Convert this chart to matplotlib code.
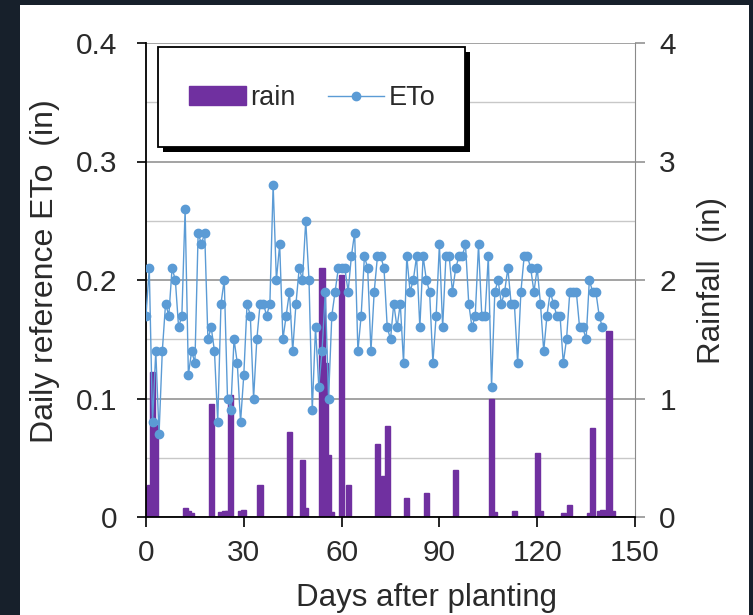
import matplotlib
matplotlib.use("Agg")
import matplotlib.pyplot as plt
from matplotlib.patches import Rectangle, Patch
from matplotlib.lines import Line2D
from matplotlib.ticker import MultipleLocator

plt.rcParams['font.family'] = ['Liberation Sans', 'DejaVu Sans']

# datos
eto_days = list(range(0, 141))
eto = [0.17, 0.21, 0.08, 0.14, 0.07, 0.14, 0.18, 0.17, 0.21, 0.20,
       0.16, 0.17, 0.26, 0.12, 0.14, 0.13, 0.24, 0.23, 0.24, 0.15,
       0.16, 0.14, 0.08, 0.18, 0.20, 0.10, 0.09, 0.15, 0.13, 0.08,
       0.12, 0.18, 0.17, 0.10, 0.15, 0.18, 0.18, 0.17, 0.18, 0.28,
       0.20, 0.23, 0.15, 0.17, 0.19, 0.14, 0.18, 0.21, 0.20, 0.25,
       0.20, 0.09, 0.16, 0.11, 0.14, 0.19, 0.10, 0.17, 0.19, 0.21,
       0.21, 0.21, 0.19, 0.22, 0.24, 0.14, 0.17, 0.22, 0.21, 0.14,
       0.19, 0.22, 0.22, 0.21, 0.16, 0.15, 0.18, 0.16, 0.18, 0.13,
       0.22, 0.19, 0.20, 0.22, 0.16, 0.22, 0.20, 0.19, 0.13, 0.17,
       0.23, 0.16, 0.22, 0.22, 0.19, 0.21, 0.22, 0.22, 0.23, 0.18,
       0.16, 0.17, 0.23, 0.17, 0.17, 0.22, 0.11, 0.19, 0.20, 0.18,
       0.19, 0.21, 0.18, 0.18, 0.13, 0.19, 0.22, 0.22, 0.21, 0.19,
       0.21, 0.18, 0.14, 0.17, 0.19, 0.18, 0.17, 0.17, 0.13, 0.15,
       0.19, 0.19, 0.19, 0.16, 0.16, 0.15, 0.20, 0.19, 0.19, 0.17,
       0.16]

rain_days = [0, 1, 2, 3, 12, 13, 14, 20, 23, 24, 25, 26, 29, 30, 35,
             44, 48, 49, 54, 55, 56, 57, 60, 62, 71, 73, 74, 80, 86, 95,
             106, 107, 113, 120, 121, 128, 130, 136, 137, 139, 140, 142, 143]
rain = [0.25, 0.27, 1.22, 0.78, 0.08, 0.05, 0.03, 0.95, 0.04, 0.05, 0.05, 1.03, 0.05, 0.06, 0.27,
        0.72, 0.48, 0.08, 2.10, 1.30, 0.52, 0.04, 2.04, 0.27, 0.62, 0.35, 0.77, 0.16, 0.20, 0.40,
        1.00, 0.04, 0.05, 0.54, 0.05, 0.03, 0.10, 0.03, 0.75, 0.05, 0.06, 1.57, 0.05]

x_ticks = [0, 30, 60, 90, 120, 150]
eto_ticks = [0, 0.1, 0.2, 0.3, 0.4]
eto_labels = ['0', '0.1', '0.2', '0.3', '0.4']
rain_ticks = [0, 1, 2, 3, 4]

W, H = 753, 615
def fx(x):
    return x / W
def fy(y):
    return 1 - y / H

purpura = '#7030a0'
azul = '#5b9bd5'
gris = '#8a8a8a'
texto = '#2a2a2a'

fig = plt.figure(figsize=(W / 100, H / 100), dpi=100, facecolor='#17202b')
fig.add_artist(Rectangle((fx(20), 0), fx(749) - fx(20), fy(5), transform=fig.transFigure,
                         facecolor='white', edgecolor='none', zorder=-10))

ax = fig.add_axes([fx(146), fy(517), fx(635) - fx(146), fy(43) - fy(517)])
ax2 = ax.twinx()
ax.set_zorder(2)
ax2.set_zorder(1)
ax.patch.set_visible(False)
ax2.patch.set_visible(False)

# lluvia (eje derecho)
ax2.bar(rain_days, rain, width=1.6, color=purpura, edgecolor=purpura, linewidth=1.0, zorder=3)
ax2.set_ylim(0, 4)
ax2.set_yticks(rain_ticks)
ax2.yaxis.set_minor_locator(MultipleLocator(0.5))
ax2.grid(which='major', axis='both', color=gris, linewidth=1.1, zorder=0)
ax2.grid(which='minor', axis='y', color='#c8c8c8', linewidth=1.0, zorder=0)
ax2.set_axisbelow(True)

# ETo (eje izquierdo)
ax.plot(eto_days, eto, color=azul, linewidth=1.0, marker='o', markersize=6.0,
        markerfacecolor=azul, markeredgecolor=azul, zorder=4)
ax.set_xlim(0, 150)
ax.set_ylim(0, 0.4)
ax.set_xticks(x_ticks)
ax.set_yticks(eto_ticks)
ax.set_yticklabels(eto_labels)

for s in ['top', 'right']:
    ax.spines[s].set_visible(False)
for s in ['left', 'bottom', 'top']:
    ax2.spines[s].set_visible(False)
ax2.spines['right'].set_color(gris)
ax.spines['left'].set_color('black')
ax.spines['bottom'].set_color('black')
ax.spines['left'].set_linewidth(1.3)
ax.spines['bottom'].set_linewidth(1.3)

ax.tick_params(axis='y', direction='out', length=6.5, width=1.2, pad=14, labelsize=21.5,
               labelcolor=texto, color='black')
ax.tick_params(axis='x', direction='out', length=7, width=1.2, pad=9, labelsize=21.5,
               labelcolor=texto, color='black')
ax2.tick_params(axis='y', which='major', direction='out', length=7.5, width=1.1, pad=10,
                labelsize=21.5, labelcolor=texto, color=gris)
ax2.tick_params(axis='y', which='minor', length=0)

fig.text(fx(426), fy(598), 'Days after planting', ha='center', va='center',
         fontsize=22.5, color=texto)
fig.text(fx(45), fy(271), 'Daily reference ETo  (in)', ha='center', va='center',
         rotation=90, fontsize=23, color=texto)
fig.text(fx(712), fy(280), 'Rainfall  (in)', ha='center', va='center',
         rotation=90, fontsize=22.5, color=texto)

# caja de leyenda con sombra negra
fig.add_artist(Rectangle((fx(163), fy(152)), fx(470) - fx(163), fy(52) - fy(152),
                         transform=fig.transFigure, facecolor='black', edgecolor='none', zorder=5))
fig.add_artist(Rectangle((fx(158), fy(147)), fx(465) - fx(158), fy(47) - fy(147),
                         transform=fig.transFigure, facecolor='white', edgecolor='black',
                         linewidth=1.3, zorder=6))
handles = [Patch(facecolor=purpura, edgecolor=purpura),
           Line2D([], [], color=azul, linewidth=1.0, marker='o', markersize=6.0)]
leg = fig.legend(handles, ['rain', 'ETo'], loc='center', bbox_to_anchor=(fx(312), fy(98)),
                 ncol=2, frameon=False, fontsize=19.5, handlelength=2.1, handleheight=0.65,
                 handletextpad=0.15, columnspacing=1.2, labelcolor=texto)
leg.set_zorder(7)

plt.savefig('out.png', dpi=100, facecolor=fig.get_facecolor())
